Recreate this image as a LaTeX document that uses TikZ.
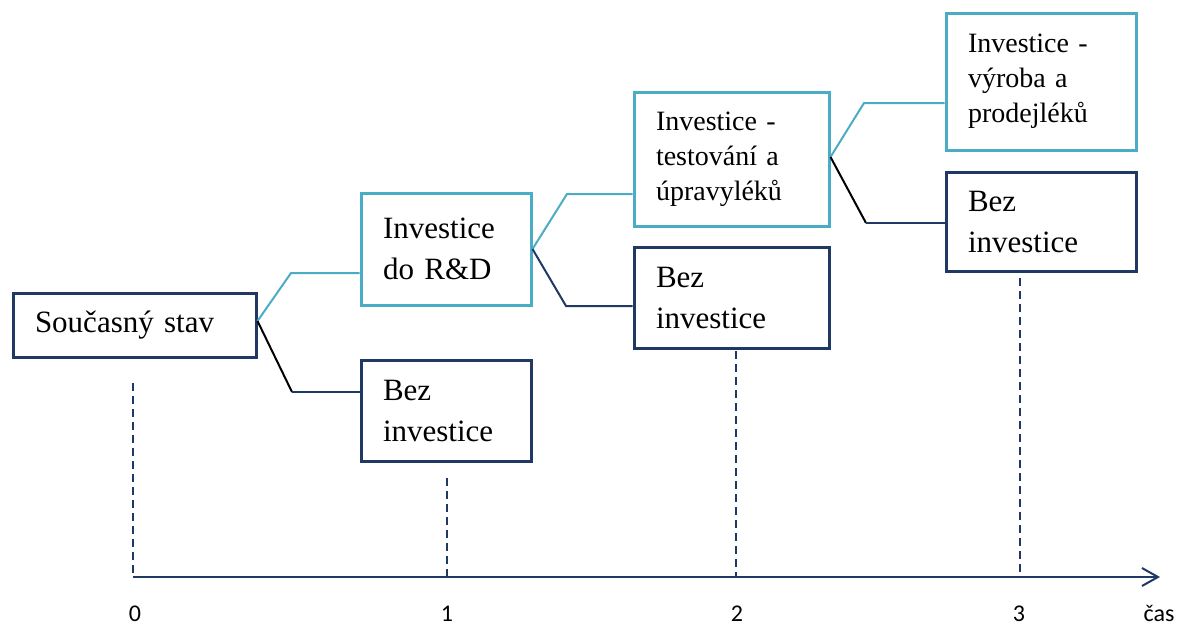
\documentclass[tikz,border=0pt]{standalone}
\usepackage{fontspec}
\setmainfont{Liberation Serif}
\newfontfamily\axisfont{Carlito}
\usetikzlibrary{arrows.meta}
\definecolor{navy}{HTML}{1F3864}
\definecolor{sky}{HTML}{4BACC6}

\begin{document}
\begin{tikzpicture}[x=1pt,y=-1pt,
  box/.style={draw, rectangle, line width=3pt, fill=white, inner xsep=22pt, inner ysep=0pt,
    align=left, font=\fontsize{31}{41}\selectfont},
  darkbox/.style={box, draw=navy},
  lightbox/.style={box, draw=sky},
  smalltext/.style={font=\fontsize{28}{35}\selectfont},
  upline/.style={sky, line width=2pt},
  downline/.style={navy, line width=2pt},
  blackline/.style={black, line width=2pt},
  timeline/.style={navy, line width=2pt, dash pattern=on 8pt off 5pt},
  axislabel/.style={font=\axisfont\fontsize{24}{28}\selectfont, inner sep=0pt}]

\useasboundingbox (0,0) rectangle (1178,627);

% time axis marks
\coordinate (t0) at (133,577);
\coordinate (t1) at (447,577);
\coordinate (t2) at (736,577);
\coordinate (t3) at (1020,577);
\coordinate (tend) at (1160,577);
\coordinate (d0) at (133,383);
\coordinate (d1) at (447,478);
\coordinate (d2) at (736,338);
\coordinate (d3) at (1020,278);

\draw[timeline] (d0) -- (t0);
\draw[timeline] (d1) -- (t1);
\draw[timeline] (d2) -- (t2);
\draw[timeline] (d3) -- (t3);
\draw[navy, line width=2pt, -{Straight Barb[length=16pt, width=18pt, line width=2pt]}] (t0) -- (tend);

\node[axislabel] (l0) at (135,614) {0};
\node[axislabel] (l1) at (447,614) {1};
\node[axislabel] (l2) at (737,614) {2};
\node[axislabel] (l3) at (1019,614) {3};
\node[axislabel] (lcas) at (1159,613) {čas};

% decision tree boxes
\node[darkbox, text width=199pt, minimum height=64pt] (s0) at (134.5,325) {Současný stav};
\node[lightbox, text width=126pt, minimum height=112pt] (rd) at (446,249) {Investice\\do R\&D};
\node[darkbox, text width=126pt, minimum height=101pt] (b1) at (446,410.5) {Bez\\investice};
\node[lightbox, smalltext, text width=151pt, minimum height=134pt] (tst) at (731.5,159) {Investice -\\testování a\\úpravyléků};
\node[darkbox, text width=151pt, minimum height=101pt] (b2) at (731.5,297.5) {Bez\\investice};
\node[lightbox, smalltext, text width=146pt, minimum height=137pt] (vyr) at (1041,81.5) {Investice -\\výroba a\\prodejléků};
\node[darkbox, text width=146pt, minimum height=99pt] (b3) at (1041,221.5) {Bez\\investice};

% branch knees
\coordinate (k1) at (291,273);
\coordinate (k2) at (292,392);
\coordinate (k3) at (567,194);
\coordinate (k4) at (566,306);
\coordinate (k5) at (864,103);
\coordinate (k6) at (866,223);

\draw[upline] ([yshift=4pt]s0.east) -- (k1) -- (k1 -| rd.west);
\draw[blackline] ([yshift=4pt]s0.east) -- (k2);
\draw[downline] (k2) -- (k2 -| b1.west);

\draw[upline] (rd.east) -- (k3) -- (k3 -| tst.west);
\draw[downline] (rd.east) -- (k4) -- (k4 -| b2.west);

\draw[upline] ([yshift=2pt]tst.east) -- (k5) -- (k5 -| vyr.west);
\draw[blackline] ([yshift=2pt]tst.east) -- (k6);
\draw[downline] (k6) -- (k6 -| b3.west);

\end{tikzpicture}
\end{document}
